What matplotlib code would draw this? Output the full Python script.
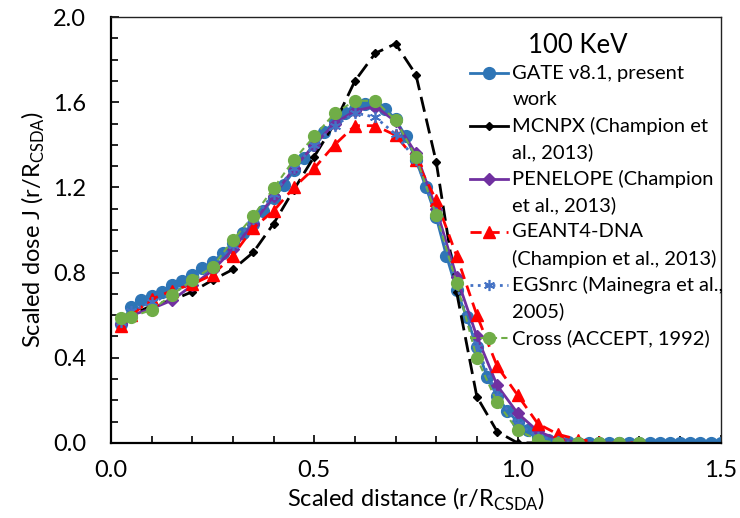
import matplotlib
matplotlib.use('Agg')
import matplotlib.pyplot as plt
from matplotlib.lines import Line2D

plt.rcParams['font.family'] = ['Lato', 'DejaVu Sans']
plt.rcParams['mathtext.fontset'] = 'custom'
plt.rcParams['mathtext.rm'] = 'Lato'

# GATE v8.1 (present work), dense sampling
gate_x = [0.025, 0.05, 0.075, 0.1, 0.125, 0.15, 0.175, 0.2, 0.225, 0.25,
          0.275, 0.3, 0.325, 0.35, 0.375, 0.4, 0.425, 0.45, 0.475, 0.5,
          0.525, 0.55, 0.575, 0.6, 0.625, 0.65, 0.675, 0.7, 0.725, 0.75,
          0.775, 0.8, 0.825, 0.85, 0.875, 0.9, 0.925, 0.95, 0.975, 1.0,
          1.025, 1.05, 1.075, 1.1, 1.125, 1.15, 1.175, 1.2, 1.225, 1.25,
          1.275, 1.3, 1.325, 1.35, 1.375, 1.4, 1.425, 1.45, 1.475, 1.5]
gate_y = [0.56, 0.64, 0.67, 0.69, 0.71, 0.74, 0.76, 0.79, 0.82, 0.85,
          0.89, 0.94, 0.985, 1.03, 1.09, 1.15, 1.21, 1.28, 1.34, 1.40,
          1.46, 1.51, 1.55, 1.57, 1.59, 1.585, 1.57, 1.52, 1.44, 1.33,
          1.20, 1.06, 0.88, 0.72, 0.59, 0.45, 0.31, 0.22, 0.15, 0.10,
          0.06, 0.03, 0.015, 0.007, 0.003, 0, 0, 0, 0, 0,
          0, 0, 0, 0, 0, 0, 0, 0, 0, 0]

# literature data
mcnpx_x = [0.025, 0.05, 0.1, 0.15, 0.2, 0.25, 0.3, 0.35, 0.4, 0.45, 0.5,
           0.55, 0.6, 0.65, 0.7, 0.75, 0.8, 0.85, 0.9, 0.95, 1.0, 1.05]
mcnpx_y = [0.57, 0.60, 0.645, 0.67, 0.71, 0.765, 0.815, 0.895, 1.03, 1.19, 1.345,
           1.50, 1.70, 1.83, 1.875, 1.73, 1.32, 0.71, 0.217, 0.053, 0.0, 0.0]

ref_x = [0.025, 0.05, 0.1, 0.15, 0.2, 0.25, 0.3, 0.35, 0.4, 0.45, 0.5, 0.55,
         0.6, 0.65, 0.7, 0.75, 0.8, 0.85, 0.9, 0.95, 1.0, 1.05, 1.1, 1.15,
         1.2, 1.25, 1.3]
penelope_y = [0.56, 0.60, 0.63, 0.67, 0.74, 0.81, 0.91, 1.03, 1.16, 1.29, 1.40, 1.50,
              1.56, 1.58, 1.51, 1.36, 1.10, 0.78, 0.50, 0.27, 0.14, 0.055, 0.015, 0.003,
              0, 0, 0]
geant_y = [0.55, 0.60, 0.675, 0.715, 0.745, 0.79, 0.88, 1.01, 1.09, 1.20, 1.29, 1.40,
           1.49, 1.49, 1.445, 1.33, 1.14, 0.88, 0.60, 0.36, 0.225, 0.09, 0.04, 0.015,
           0.005, 0, 0]
egs_y = [0.57, 0.62, 0.66, 0.70, 0.76, 0.83, 0.93, 1.05, 1.17, 1.29, 1.40, 1.49,
         1.55, 1.53, 1.45, 1.33, 1.08, 0.74, 0.45, 0.22, 0.09, 0.03, 0.01, 0,
         0, 0, 0]
cross_y = [0.585, 0.593, 0.624, 0.695, 0.765, 0.828, 0.953, 1.066, 1.196, 1.33, 1.44, 1.548,
           1.607, 1.607, 1.516, 1.344, 1.07, 0.753, 0.398, 0.19, 0.06, 0.014, 0, 0,
           0, 0, 0]

labels = ['GATE v8.1, present\nwork',
          'MCNPX (Champion et\nal., 2013)',
          'PENELOPE (Champion\net al., 2013)',
          'GEANT4-DNA\n(Champion et al., 2013)',
          'EGSnrc (Mainegra et al.,\n2005)',
          'Cross (ACCEPT, 1992)']

styles = [
    dict(color='#2E75B6', lw=2, ls='-', marker='o', ms=8.5),
    dict(color='black', lw=2, dashes=(5.5, 2.5), marker='D', ms=4.5),
    dict(color='#7030A0', lw=2, ls='-', marker='D', ms=6),
    dict(color='#FF0000', lw=2, dashes=(4, 2.5), marker='^', ms=8.5),
    dict(color='#4472C4', lw=2, ls=':', marker=(6, 2, 0), ms=8, mew=1.2),
    dict(color='#70AD47', lw=1.5, dashes=(3, 2), marker='o', ms=8.5),
]

fig = plt.figure(figsize=(7.4, 5.18), dpi=100)
ax = fig.add_axes([0.15, 0.145, 0.824, 0.822])

series = [(gate_x, gate_y), (mcnpx_x, mcnpx_y), (ref_x, penelope_y),
          (ref_x, geant_y), (ref_x, egs_y), (ref_x, cross_y)]
for (xs, ys), st in zip(series, styles):
    ax.plot(xs, ys, **st)

ax.set_xlim(0, 1.5)
ax.set_ylim(0, 2.0)
ax.set_xticks([0.0, 0.5, 1.0, 1.5])
ax.set_xticks([i / 10 for i in range(16)], minor=True)
ax.set_yticks([0.0, 0.4, 0.8, 1.2, 1.6, 2.0])
ax.set_yticks([i / 10 for i in range(21)], minor=True)
ax.xaxis.set_major_formatter(plt.FormatStrFormatter('%.1f'))
ax.yaxis.set_major_formatter(plt.FormatStrFormatter('%.1f'))
ax.tick_params(axis='both', which='both', direction='in', labelsize=17, width=1.2)
ax.tick_params(axis='y', which='both', pad=18)
ax.tick_params(axis='x', which='both', pad=12)
ax.tick_params(which='major', length=6)
ax.tick_params(which='minor', length=5)
for s in ['left', 'bottom']:
    ax.spines[s].set_linewidth(1.6)
for s in ['top', 'right']:
    ax.spines[s].set_linewidth(1.0)
    ax.spines[s].set_color('#222222')

ax.set_xlabel(r'Scaled distance (r/R$_{\mathrm{CSDA}}$)', fontsize=17, labelpad=4)
ax.set_ylabel(r'Scaled dose J (r/R$_{\mathrm{CSDA}}$)', fontsize=17, labelpad=4)

# legend drawn by hand so that the handle sits on the first text line
ax.text(0.766, 0.934, '100 KeV', transform=ax.transAxes, fontsize=18.5,
        ha='center', va='center')
x_l0, x_l1, x_m, x_t = 0.589, 0.651, 0.620, 0.658
y0, dy, lh = 0.8685, 0.1244, 0.0622
for i, (lab, st) in enumerate(zip(labels, styles)):
    y = y0 - i * dy
    line_kw = {k: v for k, v in st.items() if k not in ('marker', 'ms', 'mew')}
    if i == 1:
        line_kw.pop('dashes')
    ax.add_line(Line2D([x_l0, x_l1], [y, y], transform=ax.transAxes, **line_kw))
    ax.add_line(Line2D([x_m], [y], transform=ax.transAxes, color=st['color'],
                       marker=st['marker'], ms=st['ms'], mew=st.get('mew', 1), ls='none'))
    for j, part in enumerate(lab.split('\n')):
        ax.text(x_t, y - j * lh, part, transform=ax.transAxes, fontsize=14.5,
                va='center', ha='left')

fig.savefig('out.png', dpi=100)
